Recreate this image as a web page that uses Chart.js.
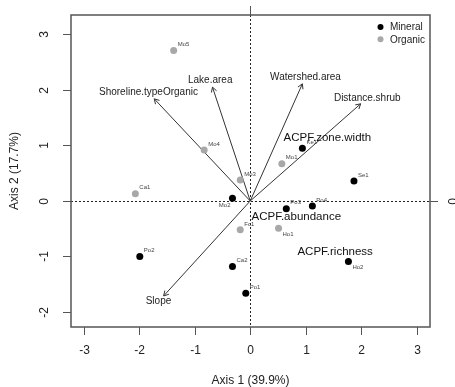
<!DOCTYPE html>
<html><head><meta charset="utf-8">
<script src="https://cdn.jsdelivr.net/npm/chart.js@4/dist/chart.umd.min.js"></script>
<style>html,body{margin:0;padding:0;background:#fff}#wrap{width:455px;height:387px}</style>
</head><body><div id="wrap"><canvas id="c" width="455" height="387"></canvas></div>
<script>
// ---- data ----
const siteNames   = ["Mo5","Mo4","Ca1","Mo3","Mo1","Ke1","Se1","Mo2","Po3","Po4","Fc1","Ho1","Ca2","Po1","Ho2","Po2"];
const siteAxis1   = [-1.38,-0.83,-2.07,-0.18,0.57,0.94,1.87,-0.32,0.65,1.12,-0.18,0.51,-0.32,-0.08,1.77,-1.99];
const siteAxis2   = [2.71,0.92,0.13,0.38,0.67,0.95,0.36,0.05,-0.14,-0.09,-0.52,-0.49,-1.18,-1.66,-1.09,-1.00];
const siteGroup   = ["Organic","Organic","Organic","Organic","Organic","Mineral","Mineral","Mineral","Mineral","Mineral","Organic","Organic","Mineral","Mineral","Mineral","Mineral"];
const vectorNames = ["Shoreline.typeOrganic","Lake.area","Watershed.area","Distance.shrub","Slope"];
const vectorAxis1 = [-1.73,-0.68,0.94,1.99,-1.56];
const vectorAxis2 = [1.84,2.05,2.11,1.75,-1.71];
const suppNames   = ["ACPF.zone.width","ACPF.abundance","ACPF.richness"];
const suppAxis1   = [1.39,0.83,1.53];
const suppAxis2   = [1.14,-0.28,-0.91];
const xTicks = [-3,-2,-1,0,1,2,3];
const yTicks = [-2,-1,0,1,2,3];
const groups = ["Mineral","Organic"];
const xTitle = "Axis 1 (39.9%)";
const yTitle = "Axis 2 (17.7%)";

// ---- styles (not data) ----
const groupColors = {Mineral:"#000000", Organic:"#a8a8a8"};
const labelPlacement = ["ur","ur","ur","ur","ur","ur","ur","bl","ur","ur","ur","br","ur","ur","br","ur"];
const FONT = "'Liberation Sans', Arial, sans-serif";

const datasets = groups.map(g => ({
  label: g, type: 'scatter',
  data: siteNames.map((n,i)=>({x:siteAxis1[i],y:siteAxis2[i],name:n,pl:labelPlacement[i]})).filter((p,i)=>siteGroup[i]===g),
  backgroundColor: groupColors[g], borderColor: groupColors[g], pointRadius: 3.5, pointHoverRadius: 3.5, borderWidth: 0
}));
vectorNames.forEach((n,i)=>{
  datasets.push({label:n, type:'line', isVector:true,
    data:[{x:0,y:0},{x:vectorAxis1[i],y:vectorAxis2[i]}],
    borderColor:'#333', borderWidth:1, pointRadius:0, fill:false, tension:0});
});

const pad = {left:71, right:25, top:15, bottom:60};

const custom = {
  id:'custom',
  beforeDatasetsDraw(chart){
    const {ctx, chartArea:a, scales:{x,y}} = chart;
    ctx.save();
    ctx.strokeStyle='#222'; ctx.lineWidth=1; ctx.setLineDash([2,2]);
    const x0 = Math.round(x.getPixelForValue(0))+0.5, y0 = Math.round(y.getPixelForValue(0))+0.5;
    ctx.beginPath(); ctx.moveTo(x0,a.top); ctx.lineTo(x0,a.bottom); ctx.stroke();
    ctx.beginPath(); ctx.moveTo(a.left,y0); ctx.lineTo(a.right,y0); ctx.stroke();
    ctx.restore();
  },
  afterDraw(chart){
    const {ctx, chartArea:a, scales:{x,y}} = chart;
    ctx.save();
    // box
    ctx.strokeStyle='#555'; ctx.lineWidth=1.5;
    ctx.strokeRect(a.left, a.top, a.right-a.left, a.bottom-a.top);
    // ticks
    ctx.lineWidth=1; ctx.strokeStyle='#555';
    ctx.fillStyle='#222'; ctx.font='12px '+FONT;
    ctx.textAlign='center'; ctx.textBaseline='middle';
    xTicks.forEach(t=>{
      const px=Math.round(x.getPixelForValue(t))+0.5;
      ctx.beginPath(); ctx.moveTo(px,a.bottom); ctx.lineTo(px,a.bottom+8); ctx.stroke();
      ctx.fillText(String(t).replace('-','-'), px, a.bottom+24);
    });
    yTicks.forEach(t=>{
      const py=Math.round(y.getPixelForValue(t))+0.5;
      ctx.beginPath(); ctx.moveTo(a.left,py); ctx.lineTo(a.left-8,py); ctx.stroke();
      ctx.save(); ctx.translate(a.left-26,py); ctx.rotate(-Math.PI/2); ctx.fillText(String(t),0,0); ctx.restore();
    });
    // secondary axes ticks at 0
    const x0=Math.round(x.getPixelForValue(0))+0.5, y0=Math.round(y.getPixelForValue(0))+0.5;
    ctx.beginPath(); ctx.moveTo(x0,a.top); ctx.lineTo(x0,a.top-9); ctx.stroke();
    ctx.beginPath(); ctx.moveTo(a.right,y0); ctx.lineTo(a.right+8,y0); ctx.stroke();
    ctx.save(); ctx.translate(a.right+24,y0); ctx.rotate(-Math.PI/2); ctx.fillText('0',0,0); ctx.restore();
    // axis titles
    ctx.fillText(xTitle, (a.left+a.right)/2+0, a.bottom+54);
    ctx.save(); ctx.translate(15,(a.top+a.bottom)/2); ctx.rotate(-Math.PI/2); ctx.fillText(yTitle,0,0); ctx.restore();
    // arrowheads + vector labels
    ctx.strokeStyle='#333'; ctx.lineWidth=1;
    ctx.font='10px '+FONT; ctx.fillStyle='#222';
    vectorNames.forEach((n,i)=>{
      const ox=x.getPixelForValue(0), oy=y.getPixelForValue(0);
      const tx=x.getPixelForValue(vectorAxis1[i]), ty=y.getPixelForValue(vectorAxis2[i]);
      const ang=Math.atan2(ty-oy,tx-ox), L=5.5, sp=Math.PI/6;
      ctx.beginPath();
      ctx.moveTo(tx-L*Math.cos(ang-sp), ty-L*Math.sin(ang-sp));
      ctx.lineTo(tx,ty);
      ctx.lineTo(tx-L*Math.cos(ang+sp), ty-L*Math.sin(ang+sp));
      ctx.stroke();
      ctx.fillText(n, x.getPixelForValue(vectorAxis1[i]*1.06), y.getPixelForValue(vectorAxis2[i]*1.06));
    });
    // supplementary labels
    ctx.font='11.5px '+FONT; ctx.fillStyle='#111';
    suppNames.forEach((n,i)=>ctx.fillText(n, x.getPixelForValue(suppAxis1[i]), y.getPixelForValue(suppAxis2[i])));
    // point labels
    ctx.font='6px '+FONT; ctx.fillStyle='#444';
    siteNames.forEach((n,i)=>{
      const px=x.getPixelForValue(siteAxis1[i]), py=y.getPixelForValue(siteAxis2[i]);
      const pl=labelPlacement[i];
      if(pl==='ur'){ctx.textAlign='left'; ctx.fillText(n,px+4,py-6);}
      else if(pl==='br'){ctx.textAlign='left'; ctx.fillText(n,px+4,py+6);}
      else {ctx.textAlign='right'; ctx.fillText(n,px-2,py+7);}
    });
    // legend
    ctx.textAlign='left'; ctx.font='10px '+FONT; ctx.fillStyle='#222';
    groups.forEach((g,i)=>{
      const ly=a.top+12+i*12.3;
      ctx.fillStyle=groupColors[g]; ctx.beginPath(); ctx.arc(a.right-49.5,ly,3,0,Math.PI*2); ctx.fill();
      ctx.fillStyle='#222'; ctx.fillText(g, a.right-40, ly+0.5);
    });
    ctx.restore();
  }
};

new Chart(document.getElementById('c'), {
  type:'scatter',
  data:{datasets},
  options:{
    responsive:false, animation:false, devicePixelRatio:1,
    layout:{padding:pad},
    plugins:{legend:{display:false}, tooltip:{enabled:false}},
    scales:{
      x:{type:'linear', min:-3.23, max:3.24, display:false},
      y:{type:'linear', min:-2.27, max:3.35, display:false}
    }
  },
  plugins:[custom]
});
</script></body></html>
